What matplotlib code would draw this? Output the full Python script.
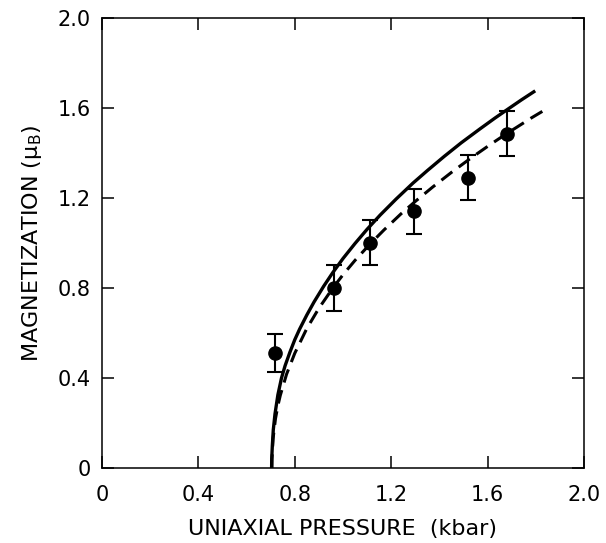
import matplotlib
matplotlib.use("Agg")
import matplotlib.pyplot as plt

# Experimental points
pressure = [0.718, 0.963, 1.112, 1.295, 1.519, 1.680]
magnetization = [0.51, 0.80, 1.00, 1.14, 1.29, 1.485]
mag_err = [0.085, 0.10, 0.10, 0.10, 0.10, 0.10]

# Solid theory curve
solid_p = [0.704, 0.7045, 0.707, 0.711, 0.718, 0.730, 0.745, 0.760, 0.780, 0.800,
           0.820, 0.850, 0.880, 0.920, 0.958, 1.000, 1.050, 1.100, 1.154, 1.220,
           1.290, 1.350, 1.420, 1.490, 1.568, 1.630, 1.680, 1.740, 1.797]
solid_m = [0.0, 0.04, 0.10, 0.17, 0.240, 0.325, 0.40, 0.455, 0.515, 0.570,
           0.617, 0.680, 0.738, 0.808, 0.869, 0.931, 0.998, 1.061, 1.124, 1.195,
           1.266, 1.322, 1.385, 1.445, 1.507, 1.555, 1.592, 1.636, 1.676]

# Dashed theory curve
dash_p = [0.705, 0.7055, 0.710, 0.720, 0.730, 0.740, 0.766, 0.800, 0.850, 0.900,
          0.958, 1.000, 1.050, 1.110, 1.170, 1.240, 1.300, 1.370, 1.450, 1.530,
          1.610, 1.680, 1.720, 1.780, 1.830]
dash_m = [0.0, 0.04, 0.13, 0.219, 0.277, 0.323, 0.417, 0.51, 0.62, 0.71,
          0.80, 0.859, 0.923, 0.993, 1.058, 1.129, 1.185, 1.247, 1.314, 1.377,
          1.437, 1.487, 1.514, 1.555, 1.587]

xticks = [0, 0.4, 0.8, 1.2, 1.6, 2.0]
xticklabels = ["0", "0.4", "0.8", "1.2", "1.6", "2.0"]
yticks = [0, 0.4, 0.8, 1.2, 1.6, 2.0]
yticklabels = ["0", "0.4", "0.8", "1.2", "1.6", "2.0"]

plt.rcParams['font.family'] = ['DejaVu Sans']
plt.rcParams['mathtext.default'] = 'regular'

fig = plt.figure(figsize=(6.06, 5.43), dpi=100)
ax = fig.add_axes([0.168, 0.138, 0.796, 0.829])

ax.plot(solid_p, solid_m, color='black', lw=2.4, solid_capstyle='butt',
        solid_joinstyle='round')
ax.plot(dash_p, dash_m, color='black', lw=2.2, linestyle=(0, (4.5, 2.6)))
ax.errorbar(pressure, magnetization, yerr=mag_err, fmt='o', color='black',
            markersize=9.5, elinewidth=1.5, capsize=5.5, capthick=1.5)

ax.set_xlim(0, 2.0)
ax.set_ylim(0, 2.0)
ax.set_xticks(xticks)
ax.set_xticklabels(xticklabels)
ax.set_yticks(yticks)
ax.set_yticklabels(yticklabels)
ax.tick_params(direction='in', length=8.5, width=1.1, top=True, right=True,
               labelsize=15)
ax.tick_params(axis='x', pad=12)
ax.tick_params(axis='y', pad=8)
for s in ax.spines.values():
    s.set_linewidth(1.1)

ax.set_xlabel('UNIAXIAL PRESSURE  (kbar)', fontsize=16, labelpad=10)
ax.set_ylabel(r'MAGNETIZATION ($\mu_B$)', fontsize=16, labelpad=10)

fig.savefig('out.png', dpi=100)
